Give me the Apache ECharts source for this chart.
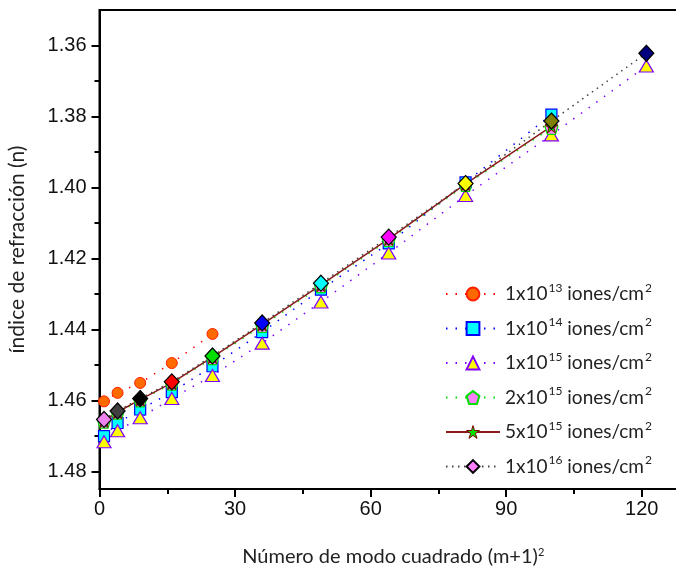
<!DOCTYPE html>
<html>
<head>
<meta charset="utf-8">
<script src="https://cdn.jsdelivr.net/npm/echarts@6/dist/echarts.min.js"></script>
<style>
  html, body { margin: 0; padding: 0; background: #fff; }
  #chart { width: 676px; height: 569px; }
</style>
</head>
<body>
<div id="chart"></div>
<script>
// Squared mode number (m+1)^2
const squaredMode = [1, 4, 9, 16, 25, 36, 49, 64, 81, 100, 121];

// Refractive index per implanted dose
const n1e13 = [1.4603, 1.4579, 1.4551, 1.4495, 1.4413];
const n1e14 = [1.4701, 1.4664, 1.4626, 1.4577, 1.4504, 1.4408, 1.4288, 1.4158, 1.3986, 1.3795];
const n1e15 = [1.4717, 1.4686, 1.4649, 1.4595, 1.4530, 1.4439, 1.4323, 1.4185, 1.4023, 1.3852, 1.3658];
const n2e15 = [1.4660, 1.4635, 1.4600, 1.4553, 1.4481, 1.4390, 1.4278, 1.4148, 1.3993, 1.3832];
const n5e15 = [1.4658, 1.4633, 1.4598, 1.4551, 1.4478, 1.4386, 1.4275, 1.4145, 1.3990, 1.3828];
const n1e16 = [1.4654, 1.4630, 1.4595, 1.4548, 1.4475, 1.4382, 1.4270, 1.4140, 1.3989, 1.3813, 1.3622];

// Series names (superscripts written with ^)
const seriesNames = [
  '1x10^13 iones/cm^2',
  '1x10^14 iones/cm^2',
  '1x10^15 iones/cm^2',
  '2x10^15 iones/cm^2',
  '5x10^15 iones/cm^2',
  '1x10^16 iones/cm^2'
];

// Axis ticks
const yMajorTicks = [1.36, 1.38, 1.40, 1.42, 1.44, 1.46, 1.48];
const yMinorTicks = [1.37, 1.39, 1.41, 1.43, 1.45, 1.47];

// Fill colours cycling along the 1x10^16 markers
const diamondColors = ['#ee82ee', '#404040', '#000000', '#ff0000', '#00e000', '#0000ff',
                       '#00ffff', '#ff00ff', '#ffff00', '#808000', '#000080'];

const pentagon = 'path://M0,-1 L0.951,-0.309 L0.588,0.809 L-0.588,0.809 L-0.951,-0.309 Z';
const star = 'path://M0,-1 L0.2245,-0.309 L0.951,-0.309 L0.363,0.118 L0.588,0.809 L0,0.382 L-0.588,0.809 L-0.363,0.118 L-0.951,-0.309 L-0.2245,-0.309 Z';

function pairs(ys) {
  return ys.map((y, i) => [squaredMode[i], y]);
}

const labelFont = 'Liberation Sans';
const textFont = 'Lato';

const chart = echarts.init(document.getElementById('chart'), null, { renderer: 'canvas' });

const option = {
  backgroundColor: '#ffffff',
  animation: false,
  grid: {
    left: 99.5, top: 10, right: -11, bottom: 80,
    containLabel: false,
    outerBoundsMode: 'none',
    show: true, borderColor: '#000', borderWidth: 2, backgroundColor: 'transparent'
  },
  legend: {
    orient: 'vertical',
    left: 440,
    top: 277,
    itemWidth: 54,
    itemHeight: 16,
    itemGap: 13,
    data: seriesNames.map((name, i) => (i === 4
      ? { name, itemStyle: { color: '#00e000', borderColor: '#800000', borderWidth: 1 } }
      : { name })),
    formatter: function (name) {
      const parts = name.split(' ');
      const lead = parts[0].replace(/\^(\d+)/, '}{sup|$1}');
      const tail = parts[1].replace(/\^(\d+)/, '}{sup|$1}');
      return '{b|' + lead + '{b| ' + tail;
    },
    textStyle: {
      rich: {
        b: { fontFamily: textFont, fontSize: 19, color: '#222', lineHeight: 24 },
        sup: { fontFamily: textFont, fontSize: 12, color: '#222', lineHeight: 12, verticalAlign: 'top', padding: [0, 0, 0, 1] }
      }
    }
  },
  xAxis: {
    type: 'value',
    min: 0, max: 130, interval: 30,
    name: 'Número de modo cuadrado (m+1){sup|2}',
    nameLocation: 'middle',
    nameGap: 58,
    nameTextStyle: {
      fontFamily: textFont, fontSize: 20, color: '#222',
      rich: { sup: { fontFamily: textFont, fontSize: 11, color: '#222', verticalAlign: 'top', lineHeight: 10 } }
    },
    axisLine: { show: true, lineStyle: { color: '#000', width: 2 } },
    axisTick: { show: true, inside: false, length: 8, lineStyle: { color: '#000', width: 2 } },
    minorTick: { show: true, splitNumber: 2, length: 5, lineStyle: { color: '#000', width: 2 } },
    axisLabel: { fontFamily: labelFont, fontSize: 20, color: '#111', margin: 10,
      formatter: v => (v <= 120 ? String(v) : '') },
    splitLine: { show: false }
  },
  yAxis: [
    {
      type: 'value',
      inverse: true,
      min: 1.35, max: 1.485,
      name: 'índice de refracción (n)',
      nameLocation: 'middle',
      nameGap: 72,
      nameRotate: 90,
      nameTextStyle: { fontFamily: textFont, fontSize: 21, color: '#222' },
      axisLine: { show: true, lineStyle: { color: '#000', width: 2 } },
      axisTick: { show: true, customValues: yMajorTicks, length: 8, lineStyle: { color: '#000', width: 2 } },
      axisLabel: { customValues: yMajorTicks, fontFamily: labelFont, fontSize: 20, color: '#111', margin: 13,
        formatter: v => v.toFixed(2) },
      splitLine: { show: false }
    },
    {
      type: 'value',
      inverse: true,
      position: 'left',
      min: 1.35, max: 1.485,
      axisLine: { show: false },
      axisTick: { show: true, customValues: yMinorTicks, length: 5, lineStyle: { color: '#000', width: 2 } },
      axisLabel: { show: false },
      splitLine: { show: false }
    }
  ],
  series: [
    {
      name: seriesNames[0], type: 'line', data: pairs(n1e13),
      symbol: 'circle', symbolSize: 11,
      itemStyle: { color: '#ff6a00', borderColor: '#ff2000', borderWidth: 1 },
      lineStyle: { color: '#ff0000', width: 1.5, type: [1.5, 8] }
    },
    {
      name: seriesNames[1], type: 'line', data: pairs(n1e14),
      symbol: 'rect', symbolSize: 11,
      itemStyle: { color: '#00ffff', borderColor: '#0000ff', borderWidth: 1.2 },
      lineStyle: { color: '#0000ff', width: 1.5, type: [1.5, 8] }
    },
    {
      name: seriesNames[2], type: 'line', data: pairs(n1e15),
      symbol: 'triangle', symbolSize: [14, 12],
      itemStyle: { color: '#ffff00', borderColor: '#8000ff', borderWidth: 1.2 },
      lineStyle: { color: '#8000ff', width: 1.5, type: [1.5, 8] }
    },
    {
      name: seriesNames[3], type: 'line', data: pairs(n2e15),
      symbol: pentagon, symbolSize: 13,
      itemStyle: { color: '#ff80ff', borderColor: '#00e000', borderWidth: 1.2 },
      lineStyle: { color: '#00e000', width: 1.5, type: [1.5, 8] }
    },
    {
      name: seriesNames[4], type: 'line', data: pairs(n5e15),
      symbol: star, symbolSize: 13,
      itemStyle: { color: '#00e000', borderColor: '#800000', borderWidth: 1 },
      lineStyle: { color: '#8b1a1a', width: 1.5, type: 'solid' }
    },
    {
      name: seriesNames[5], type: 'line',
      data: n1e16.map((y, i) => ({ value: [squaredMode[i], y], itemStyle: { color: diamondColors[i] } })),
      symbol: 'diamond', symbolSize: [15, 16],
      itemStyle: { color: '#ff80ff', borderColor: '#000', borderWidth: 1.2 },
      lineStyle: { color: '#444', width: 1.5, type: [1.5, 4.5] }
    }
  ]
};

chart.setOption(option);
</script>
</body>
</html>
